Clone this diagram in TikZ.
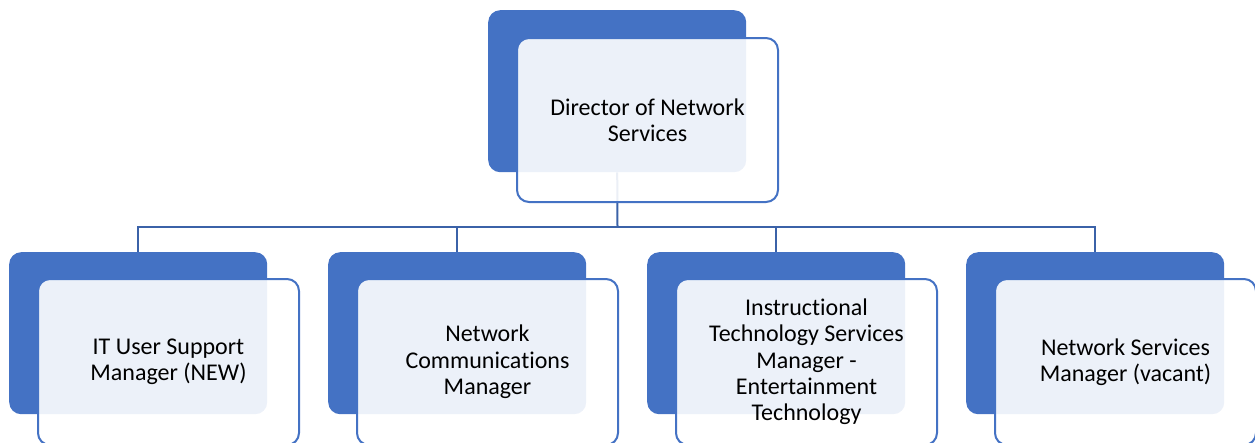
\documentclass[tikz,border=0pt]{standalone}
\usepackage{fontspec}
\setmainfont[Ligatures=NoCommon]{Carlito}
\definecolor{accent}{HTML}{4472C4}
\definecolor{connblue}{HTML}{3B62A8}
\begin{document}
\begin{tikzpicture}[x=1pt,y=-1pt,
  darkbox/.style={draw=none,fill=accent,rounded corners=12pt,minimum width=258pt,minimum height=162pt,inner sep=0pt,anchor=north west},
  lightbox/.style={draw=accent,line width=2pt,fill=white,fill opacity=0.9,text opacity=1,rounded corners=12pt,minimum width=261pt,minimum height=164pt,inner sep=0pt,anchor=north west,align=center,font=\fontsize{24}{26.3}\selectfont,text=black},
  conn/.style={draw=connblue,line width=2pt}]
\useasboundingbox (0,0) rectangle (1255,442);
% dark back boxes
\node[darkbox] (t0) at (488,10) {};
\node[darkbox] (d1) at (9,252) {};
\node[darkbox] (d2) at (328,252) {};
\node[darkbox] (d3) at (647,252) {};
\node[darkbox] (d4) at (966,252) {};
% connectors
\coordinate (bar) at (617.5,227);
\draw[conn] (t0.south) -- (bar);
\draw[conn] (bar) -| (d1.north);
\draw[conn] (bar) -| (d2.north);
\draw[conn] (bar) -| (d3.north);
\draw[conn] (bar) -| (d4.north);
% light front boxes
\node[lightbox] (l0) at (516,37) {Director of Network\\Services};
\node[lightbox,minimum height=166pt] (l1) at (37,278) {IT User Support\\Manager (NEW)};
\node[lightbox,minimum height=166pt] (l2) at (356,278) {Network\\Communications\\Manager};
\node[lightbox,minimum height=166pt] (l3) at (675,278) {Instructional\\Technology Services\\Manager -\\Entertainment\\Technology};
\node[lightbox,minimum height=166pt] (l4) at (994,278) {Network Services\\Manager (vacant)};
\end{tikzpicture}
\end{document}
